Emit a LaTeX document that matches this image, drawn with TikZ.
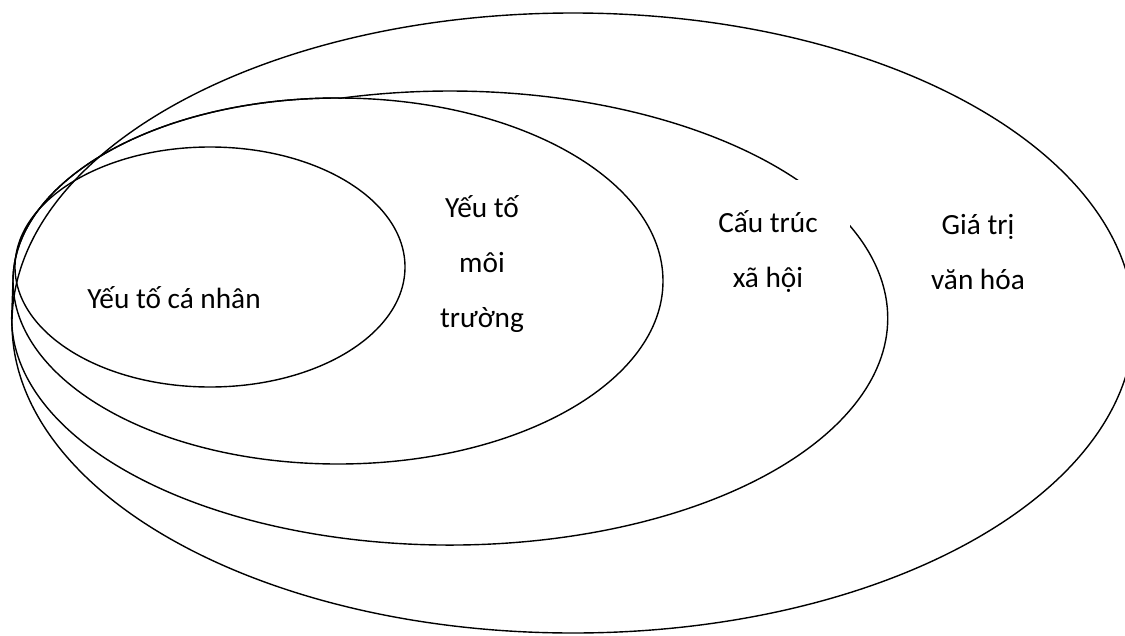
\documentclass[tikz,border=0pt]{standalone}
\usepackage{fontspec}
\setmainfont{Carlito}
\begin{document}
\begin{tikzpicture}[x=1pt,y=-1pt,
  ring/.style={draw=black,line width=1.4pt},
  lbl/.style={font={\fontsize{29.3}{55}\selectfont},align=center,inner sep=0pt}]
\useasboundingbox (0,0) rectangle (1125,635);
\fill[white] (0,0) rectangle (1125,635);
% rings (outer to inner)
\draw[ring] (573,323) ellipse [x radius=561,y radius=310];
\draw[ring] (13,281) arc[start angle=180,end angle=270,x radius=325,y radius=183]
  -- (340,98.3) arc[start angle=255.5,end angle=540,x radius=438,y radius=227] -- cycle;
\draw[ring] (338,281) ellipse [x radius=325,y radius=183];
\draw[ring] (210,267) ellipse [x radius=195,y radius=120];
% labels
\node[lbl] (canhan) at (174,298) {Yếu tố cá nhân};
\node[lbl] (moitruong) at (482,264) {Yếu tố\\môi\\trường};
\node[lbl,fill=white,minimum width=164pt,minimum height=144pt] (cautruc) at (768,252) {Cấu trúc\\xã hội};
\node[lbl] (vanhoa) at (978,252) {Giá trị\\văn hóa};
\end{tikzpicture}
\end{document}
